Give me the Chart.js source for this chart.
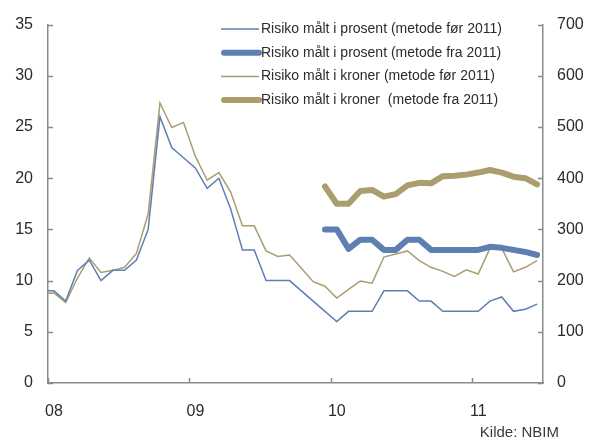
<!DOCTYPE html>
<html>
<head>
<meta charset="utf-8">
<script src="https://cdn.jsdelivr.net/npm/chart.js@4.4.0/dist/chart.umd.min.js"></script>
<style>
  html, body { margin: 0; padding: 0; background: #fff; }
  #wrap { position: relative; width: 590px; height: 441px; }
</style>
</head>
<body>
<div id="wrap"><canvas id="risk"></canvas></div>
<script>
// monthly values from des 07 to jun 11, plotted mid-month (0 = start of 2008)
const firstMonth = -0.5;
const yearTicks = [0, 12, 24, 36];
const yearLabels = ['08', '09', '10', '11'];

// risiko i prosent (left axis)
const pctOld = [9, 9, 8, 11, 12, 10, 11, 11, 12, 15, 26, 23, 22, 21, 19, 20, 17, 13, 13, 10, 10, 10,
  9, 8, 7, 6, 7, 7, 7, 9, 9, 9, 8, 8, 7, 7, 7, 7, 8, 8.4, 7, 7.2, 7.7];
const pctNew = [null, null, null, null, null, null, null, null, null, null, null, null,
  null, null, null, null, null, null, null, null, null, null, null, null,
  15, 15, 13.1, 14, 14, 13, 13, 14, 14, 13, 13, 13, 13, 13, 13.3, 13.2, 13, 12.8, 12.5];

// risiko i kroner, mrd (right axis)
const nokOld = [175, 176, 157, 205, 244, 216, 220, 226, 253, 330, 547, 499, 509, 443, 396, 411, 373, 307, 307, 258, 247, 250,
  224, 198, 189, 166, 183, 199, 195, 246, 252, 258, 239, 226, 218, 208, 221, 213, 263, 263, 217, 226, 239];
const nokNew = [null, null, null, null, null, null, null, null, null, null, null, null,
  null, null, null, null, null, null, null, null, null, null, null, null,
  384, 350, 350, 375, 377, 364, 369, 386, 391, 390, 404, 405, 407, 411, 416, 411, 403, 400, 388];

const blue = '#5f7fb3';
const gold = '#aa9d6e';
const axisGrey = '#8a8a8a';
const textCol = '#2b2b2b';

const toPoints = arr => arr.map((v, i) => ({ x: firstMonth + i, y: v }));

// short inward tick marks on every axis
const innerTicks = {
  id: 'innerTicks',
  afterDraw(chart) {
    const c = chart.ctx, a = chart.chartArea;
    c.save();
    c.strokeStyle = axisGrey;
    c.lineWidth = 1.5;
    c.beginPath();
    chart.scales.y.ticks.forEach(t => {
      const py = Math.round(chart.scales.y.getPixelForValue(t.value)) + 0.5;
      c.moveTo(a.left, py); c.lineTo(a.left + 5, py);
    });
    chart.scales.y1.ticks.forEach(t => {
      const py = Math.round(chart.scales.y1.getPixelForValue(t.value)) + 0.5;
      c.moveTo(a.right, py); c.lineTo(a.right - 5, py);
    });
    chart.scales.x.ticks.forEach(t => {
      const px = Math.round(chart.scales.x.getPixelForValue(t.value)) + 0.5;
      c.moveTo(px, a.bottom); c.lineTo(px, a.bottom - 5);
    });
    c.stroke();
    c.restore();
  }
};

// legend box top right + source note
const legendNote = {
  id: 'legendNote',
  afterDraw(chart) {
    const c = chart.ctx;
    c.save();
    c.font = '14px "Liberation Sans", Arial, sans-serif';
    c.textBaseline = 'middle';
    chart.data.datasets.forEach((ds, i) => {
      const y = 29 + i * 23.7;
      c.strokeStyle = ds.borderColor;
      c.lineWidth = ds.borderWidth;
      c.lineCap = ds.borderWidth > 2 ? 'round' : 'butt';
      c.beginPath();
      c.moveTo(ds.borderWidth > 2 ? 224 : 221, y);
      c.lineTo(259, y);
      c.stroke();
      c.fillStyle = textCol;
      c.textAlign = 'left';
      c.fillText(ds.label, 261, y);
    });
    c.font = '15px "Liberation Sans", Arial, sans-serif';
    c.textAlign = 'right';
    c.fillStyle = '#3a3a3a';
    c.fillText('Kilde: NBIM', 559, 433);
    c.restore();
  }
};

const ctx = document.getElementById('risk').getContext('2d');
const riskChart = new Chart(ctx, {
  type: 'line',
  data: {
    datasets: [{
      label: 'Risiko målt i prosent (metode før 2011)',
      data: toPoints(pctOld),
      yAxisID: 'y',
      borderColor: blue,
      borderWidth: 1.5,
      pointRadius: 0,
      tension: 0
    }, {
      label: 'Risiko målt i prosent (metode fra 2011)',
      data: toPoints(pctNew),
      yAxisID: 'y',
      borderColor: blue,
      borderWidth: 6,
      borderCapStyle: 'round',
      borderJoinStyle: 'round',
      pointRadius: 0,
      tension: 0
    }, {
      label: 'Risiko målt i kroner (metode før 2011)',
      data: toPoints(nokOld),
      yAxisID: 'y1',
      borderColor: gold,
      borderWidth: 1.5,
      pointRadius: 0,
      tension: 0
    }, {
      label: 'Risiko målt i kroner  (metode fra 2011)',
      data: toPoints(nokNew),
      yAxisID: 'y1',
      borderColor: gold,
      borderWidth: 6,
      borderCapStyle: 'round',
      borderJoinStyle: 'round',
      pointRadius: 0,
      tension: 0
    }]
  },
  options: {
    responsive: true,
    maintainAspectRatio: false,
    animation: false,
    layout: { padding: { top: 20, left: 0, right: 0, bottom: 0 } },
    plugins: {
      legend: { display: false },
      tooltip: { enabled: false }
    },
    scales: {
      x: {
        type: 'linear',
        min: 0,
        max: 42,
        afterBuildTicks: s => { s.ticks = yearTicks.map(v => ({ value: v })); },
        afterFit: s => { s.height = 58; },
        grid: { display: false, drawTicks: false },
        border: { display: true, color: axisGrey, width: 1.5 },
        ticks: {
          padding: 19,
          labelOffset: 6,
          maxRotation: 0,
          color: textCol,
          font: { family: '"Liberation Sans", Arial, sans-serif', size: 16 },
          callback: v => yearLabels[yearTicks.indexOf(v)]
        }
      },
      y: {
        position: 'left',
        min: 0,
        max: 35,
        afterFit: s => { s.width = 48; },
        grid: { display: false, drawTicks: false },
        border: { display: true, color: axisGrey, width: 1.5 },
        ticks: {
          stepSize: 5,
          padding: 15,
          color: textCol,
          font: { family: '"Liberation Sans", Arial, sans-serif', size: 16 }
        }
      },
      y1: {
        position: 'right',
        min: 0,
        max: 700,
        afterFit: s => { s.width = 47; },
        grid: { display: false, drawTicks: false },
        border: { display: true, color: axisGrey, width: 1.5 },
        ticks: {
          stepSize: 100,
          padding: 14,
          color: textCol,
          font: { family: '"Liberation Sans", Arial, sans-serif', size: 16 }
        }
      }
    }
  },
  plugins: [innerTicks, legendNote]
});
</script>
</body>
</html>
